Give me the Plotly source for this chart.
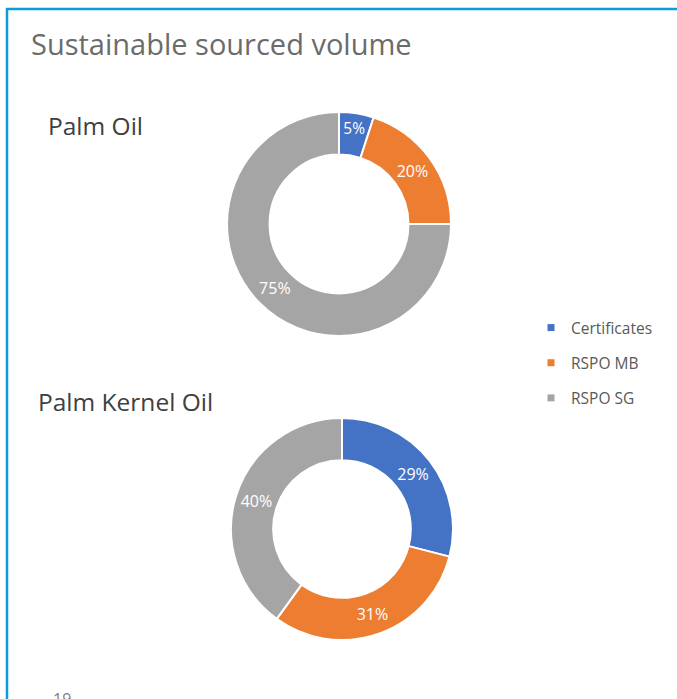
import plotly.graph_objects as go

W, H = 677, 699

categories = ["Certificates", "RSPO MB", "RSPO SG"]
palm_oil = [5, 20, 75]
palm_kernel_oil = [29, 31, 40]
colors = ["#4472C4", "#ED7D31", "#A5A5A5"]
title_text = "Sustainable sourced volume"
sub_titles = ["Palm Oil", "Palm Kernel Oil"]
page_number = "19"

FONT = "Open Sans"

def px_x(p):
    return p / W

def px_y(p):
    return 1 - p / H

fig = go.Figure()

def add_donut(values, cx, cy, r):
    fig.add_trace(go.Pie(
        labels=categories, values=values, sort=False, direction="clockwise",
        hole=0.62, marker=dict(colors=colors, line=dict(color="white", width=2)),
        textinfo="percent", texttemplate="%{percent:.0%}",
        textposition="inside", insidetextorientation="horizontal",
        textfont=dict(color="white", size=16, family=FONT),
        showlegend=False, hoverinfo="label+percent",
        domain=dict(x=[px_x(cx - r), px_x(cx + r)], y=[px_y(cy + r), px_y(cy - r)]),
    ))

add_donut(palm_oil, 339, 224, 112)
add_donut(palm_kernel_oil, 342, 529, 111)

# legend entries
for i, (cat, col) in enumerate(zip(categories, colors)):
    fig.add_trace(go.Scatter(
        x=[None], y=[None], mode="markers", name=cat, legendgroup=f"g{i}",
        marker=dict(symbol="square", size=7, color=col),
    ))

fig.update_layout(
    width=W, height=H, margin=dict(l=0, r=0, t=0, b=0),
    paper_bgcolor="white", plot_bgcolor="white",
    xaxis=dict(visible=False, domain=[0.99, 1]), yaxis=dict(visible=False, domain=[0.99, 1]),
    legend=dict(x=px_x(531), y=px_y(311), xanchor="left", yanchor="top",
                font=dict(family=FONT, size=15.5, color="#595959"),
                tracegroupgap=12, itemwidth=30, bgcolor="rgba(0,0,0,0)"),
    showlegend=True,
    annotations=[
        dict(text=title_text, x=px_x(29), y=px_y(43), xref="paper", yref="paper",
             xanchor="left", yanchor="middle", showarrow=False,
             font=dict(family=FONT, size=29, color="#6b6b6b")),
        dict(text=sub_titles[0], x=px_x(46), y=px_y(126), xref="paper", yref="paper",
             xanchor="left", yanchor="middle", showarrow=False,
             font=dict(family=FONT, size=24.5, color="#404040")),
        dict(text=sub_titles[1], x=px_x(36), y=px_y(401), xref="paper", yref="paper",
             xanchor="left", yanchor="middle", showarrow=False,
             font=dict(family=FONT, size=24.5, color="#404040")),
        dict(text=page_number, x=px_x(51), y=px_y(686), xref="paper", yref="paper",
             xanchor="left", yanchor="top", showarrow=False,
             font=dict(family=FONT, size=16, color="#7f7f7f")),
    ],
    shapes=[
        dict(type="line", xref="paper", yref="paper", x0=px_x(7), x1=px_x(7),
             y0=0, y1=px_y(8), line=dict(color="#0d9be0", width=2.5)),
        dict(type="line", xref="paper", yref="paper", x0=px_x(6), x1=1,
             y0=px_y(9), y1=px_y(9), line=dict(color="#0d9be0", width=2.5)),
    ],
)

fig.write_html("out.html", config={"displayModeBar": False},
               post_script=["document.body.style.margin='0px';"])
